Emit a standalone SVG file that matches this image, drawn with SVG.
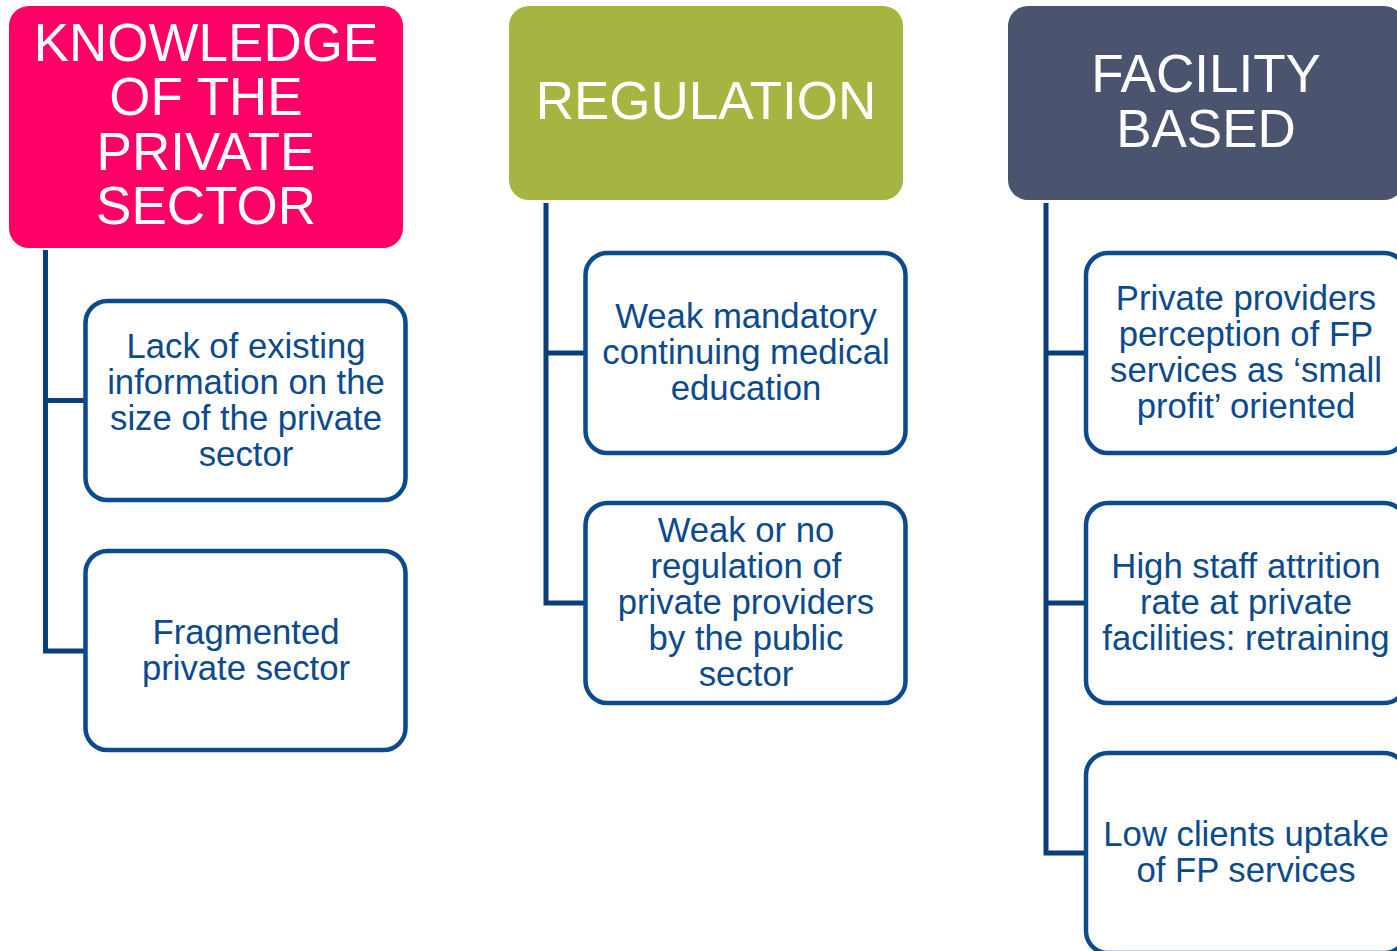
<svg xmlns="http://www.w3.org/2000/svg" width="1397" height="951" viewBox="0 0 1397 951">
<style>
.hd{font-family:"Liberation Sans",Arial,sans-serif;font-size:53px;fill:#fff;text-anchor:middle}
.ch{font-family:"Liberation Sans",Arial,sans-serif;font-size:34.7px;fill:#0C4A8E;text-anchor:middle}
.box{fill:#fff;stroke:#0C4A8E;stroke-width:4.5}
.con{fill:none;stroke:#0A3F7C;stroke-width:5}
</style>
<rect width="1397" height="951" fill="#fff"/>
<g id="connectors">
<path class="con" d="M45.5 250V651H86M45.5 400.5H86"/>
<path class="con" d="M546 203V603H586M546 353H586"/>
<path class="con" d="M1046 203V853H1086M1046 353H1086M1046 603H1086"/>
</g>
<g id="h1"><rect x="9" y="6" width="394" height="242" rx="20" fill="#FF0066"/>
<text class="hd"><tspan x="206" y="60.5">KNOWLEDGE</tspan><tspan x="206" y="115">OF THE</tspan><tspan x="206" y="169.5">PRIVATE</tspan><tspan x="206" y="224">SECTOR</tspan></text></g>
<g id="h2"><rect x="509" y="6" width="394" height="194" rx="20" fill="#A6B441"/>
<text class="hd" x="706" y="119">REGULATION</text></g>
<g id="h3"><rect x="1008" y="6" width="396" height="194" rx="20" fill="#4A546F"/>
<text class="hd"><tspan x="1206" y="91.5">FACILITY</tspan><tspan x="1206" y="146.5">BASED</tspan></text></g>
<g id="n1"><rect class="box" x="85.5" y="301" width="320" height="199" rx="22"/>
<text class="ch"><tspan x="246" y="358">Lack of existing</tspan><tspan x="246" y="394">information on the</tspan><tspan x="246" y="430">size of the private</tspan><tspan x="246" y="466">sector</tspan></text></g>
<g id="n2"><rect class="box" x="85.5" y="551" width="320" height="199" rx="22"/>
<text class="ch"><tspan x="246" y="643.5">Fragmented</tspan><tspan x="246" y="679.5">private sector</tspan></text></g>
<g id="n3"><rect class="box" x="585.5" y="253" width="320" height="200" rx="22"/>
<text class="ch"><tspan x="746" y="327.5">Weak mandatory</tspan><tspan x="746" y="363.5">continuing medical</tspan><tspan x="746" y="399.5">education</tspan></text></g>
<g id="n4"><rect class="box" x="585.5" y="503" width="320" height="200" rx="22"/>
<text class="ch"><tspan x="746" y="542">Weak or no</tspan><tspan x="746" y="578">regulation of</tspan><tspan x="746" y="614">private providers</tspan><tspan x="746" y="650">by the public</tspan><tspan x="746" y="686">sector</tspan></text></g>
<g id="n5"><rect class="box" x="1086" y="253" width="320" height="200" rx="22"/>
<text class="ch"><tspan x="1246" y="310">Private providers</tspan><tspan x="1246" y="346">perception of FP</tspan><tspan x="1246" y="382">services as ‘small</tspan><tspan x="1246" y="418">profit’ oriented</tspan></text></g>
<g id="n6"><rect class="box" x="1086" y="503" width="320" height="200" rx="22"/>
<text class="ch"><tspan x="1246" y="578">High staff attrition</tspan><tspan x="1246" y="614">rate at private</tspan><tspan x="1246" y="650">facilities: retraining</tspan></text></g>
<g id="n7"><rect class="box" x="1086" y="753" width="320" height="200" rx="22"/>
<text class="ch"><tspan x="1246" y="846">Low clients uptake</tspan><tspan x="1246" y="882">of FP services</tspan></text></g>
</svg>
